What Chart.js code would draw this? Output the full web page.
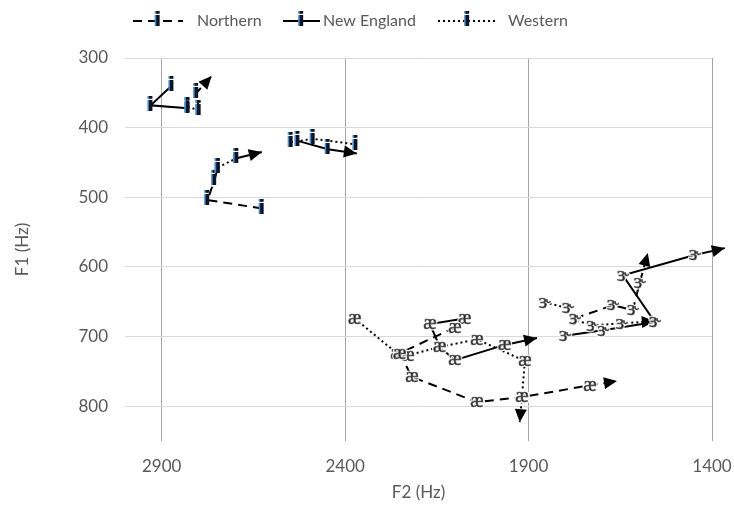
<!DOCTYPE html>
<html>
<head>
<meta charset="utf-8">
<script src="https://cdn.jsdelivr.net/npm/chart.js@4.4.1/dist/chart.umd.min.js"></script>
<style>
  html, body { margin: 0; background: #fff; }
</style>
</head>
<body>
<canvas id="chart" width="734" height="506"></canvas>
<script>
// Series names and axis ticks
const SERIES = ['Northern', 'New England', 'Western'];
const F2_TICKS = [1400, 1900, 2400, 2900];
const F1_TICKS = [300, 400, 500, 600, 700, 800];

// Vowel trajectories, [F2, F1] in Hz
const northernI = [[2799, 375], [2805, 350], [2764, 326]];
const newEnglandI = [[2829, 372], [2930, 368], [2873, 340]];
const westernI = [[2829, 370], [2799, 375]];

const northernIh = [[2627, 516], [2775, 504], [2756, 475], [2747, 457]];
const westernIh = [[2747, 457], [2696, 444]];
const newEnglandIh = [[2696, 444], [2627, 435]];

const westernE = [[2548, 421], [2488, 416], [2371, 424]];
const newEnglandE = [[2529, 419], [2447, 431], [2368, 437]];

const westernAe = [[2374, 674], [2259, 724], [2229, 727], [2142, 715], [2041, 704], [1910, 735], [1918, 787], [1924, 823]];
const newEnglandAe = [[2074, 674], [2169, 682], [2142, 715], [2101, 734], [1965, 712], [1877, 702]];
const northernAe = [[2101, 687], [2251, 724], [2218, 758], [2041, 794], [1918, 787], [1733, 770], [1659, 764]];

const westernEr = [[1856, 651], [1793, 659], [1774, 676], [1727, 684], [1646, 681], [1556, 678]];
const northernEr = [[1774, 674], [1670, 655], [1616, 662], [1597, 623], [1575, 580]];
const newEnglandEr = [[1801, 699], [1697, 691], [1556, 679], [1643, 612], [1447, 583], [1365, 573]];

// series index, label glyph, arrow at end
const TRAJECTORIES = [
  [0, 'i', true, northernI],
  [1, 'i', false, newEnglandI],
  [2, 'i', false, westernI],
  [0, 'i', false, northernIh],
  [2, 'i', false, westernIh],
  [1, 'i', true, newEnglandIh],
  [2, 'i', false, westernE],
  [1, 'i', true, newEnglandE],
  [2, 'æ', true, westernAe],
  [1, 'æ', true, newEnglandAe],
  [0, 'æ', true, northernAe],
  [2, 'ɝ', true, westernEr],
  [0, 'ɝ', true, northernEr],
  [1, 'ɝ', true, newEnglandEr],
];

const DASHES = [[9, 6], [], [2, 3]];
const TEXT = '#595959';
const FONT = 'Lato, sans-serif';

function drawGlyph(ctx, g, x, y) {
  ctx.save();
  ctx.textAlign = 'center';
  ctx.textBaseline = 'middle';
  if (g === 'i') {
    ctx.font = "bold 20px 'DejaVu Sans'";
    ctx.fillStyle = '#4a8ad4';
    ctx.fillText('i', x - 1.5, y);
    ctx.fillStyle = '#0b1526';
    ctx.fillText('i', x, y);
  } else {
    ctx.font = "20px 'Liberation Serif', 'DejaVu Serif'";
    ctx.lineWidth = 3;
    ctx.strokeStyle = 'rgba(255,255,255,0.85)';
    ctx.strokeText(g, x, y);
    ctx.fillStyle = '#262626';
    ctx.strokeStyle = '#555';
    ctx.lineWidth = 0.6;
    ctx.fillText(g, x, y);
    ctx.strokeText(g, x, y);
  }
  ctx.restore();
}

// arrowheads at trajectory ends plus the vowel labels on every point
const vowelMarks = {
  id: 'vowelMarks',
  afterDatasetsDraw(chart) {
    const ctx = chart.ctx;
    chart.data.datasets.forEach((ds, i) => {
      const pts = chart.getDatasetMeta(i).data;
      if (ds.arrow && pts.length > 1) {
        const a = pts[pts.length - 2], b = pts[pts.length - 1];
        const ang = Math.atan2(b.y - a.y, b.x - a.x);
        const len = 13, half = 6;
        ctx.save();
        ctx.translate(b.x, b.y);
        ctx.rotate(ang);
        ctx.beginPath();
        ctx.moveTo(0, 0);
        ctx.lineTo(-len, -half);
        ctx.lineTo(-len, half);
        ctx.closePath();
        ctx.fillStyle = '#000';
        ctx.fill();
        ctx.restore();
      }
    });
    chart.data.datasets.forEach((ds, i) => {
      const pts = chart.getDatasetMeta(i).data;
      const n = ds.arrow ? pts.length - 1 : pts.length;
      for (let k = 0; k < n; k++) drawGlyph(ctx, ds.glyph, pts[k].x, pts[k].y);
    });
  },
};

// legend: line sample with marker, then the series name
const vowelLegend = {
  id: 'vowelLegend',
  afterDraw(chart, args, opts) {
    const ctx = chart.ctx;
    const y = opts.y;
    opts.items.forEach((it, i) => {
      ctx.save();
      ctx.strokeStyle = '#000';
      ctx.lineWidth = 2;
      ctx.setLineDash(DASHES[i]);
      ctx.beginPath();
      ctx.moveTo(it[0], y);
      ctx.lineTo(it[1], y);
      ctx.stroke();
      ctx.restore();
      drawGlyph(ctx, 'i', (it[0] + it[1]) / 2, y);
      ctx.save();
      ctx.font = '16px ' + FONT;
      ctx.fillStyle = TEXT;
      ctx.textBaseline = 'middle';
      ctx.fillText(SERIES[i], it[2], y);
      ctx.restore();
    });
  },
};

const datasets = TRAJECTORIES.map(([s, glyph, arrow, pts]) => ({
  label: SERIES[s],
  data: pts.map(([x, y]) => ({ x, y })),
  showLine: true,
  borderColor: '#000',
  borderWidth: 2,
  borderDash: DASHES[s],
  borderCapStyle: 'butt',
  pointRadius: 0,
  pointHoverRadius: 0,
  clip: false,
  glyph,
  arrow,
}));

new Chart(document.getElementById('chart'), {
  type: 'scatter',
  data: { datasets },
  plugins: [vowelMarks, vowelLegend],
  options: {
    responsive: false,
    animation: false,
    devicePixelRatio: 1,
    layout: { padding: { top: 58, right: 22, bottom: 0, left: 0 } },
    plugins: {
      legend: { display: false },
      tooltip: { enabled: false },
      vowelLegend: {
        y: 21,
        items: [[133, 183, 197], [283, 320, 323], [438, 497, 508]],
      },
    },
    scales: {
      x: {
        type: 'linear',
        reverse: true,
        min: 1400,
        max: 3000,
        afterBuildTicks: s => { s.ticks = F2_TICKS.map(v => ({ value: v })); },
        afterFit: s => { s.height = 65; },
        grid: { color: '#a6a6a6', drawTicks: false },
        border: { display: false },
        ticks: { color: TEXT, font: { family: FONT, size: 17 }, padding: 15, callback: v => String(v) },
        title: {
          display: true, text: 'F2 (Hz)', color: TEXT,
          font: { family: FONT, size: 17 }, padding: { top: 0, bottom: 3 },
        },
      },
      y: {
        type: 'linear',
        reverse: true,
        min: 300,
        max: 850,
        afterBuildTicks: s => { s.ticks = F1_TICKS.map(v => ({ value: v })); },
        afterFit: s => { s.width = 125; },
        grid: { color: '#d9d9d9', drawTicks: false },
        border: { display: false },
        ticks: { color: TEXT, font: { family: FONT, size: 17 }, padding: 17, callback: v => String(v) },
        title: {
          display: true, text: 'F1 (Hz)', color: TEXT,
          font: { family: FONT, size: 17 }, padding: { top: 12, bottom: 0 },
        },
      },
    },
  },
});
</script>
</body>
</html>
